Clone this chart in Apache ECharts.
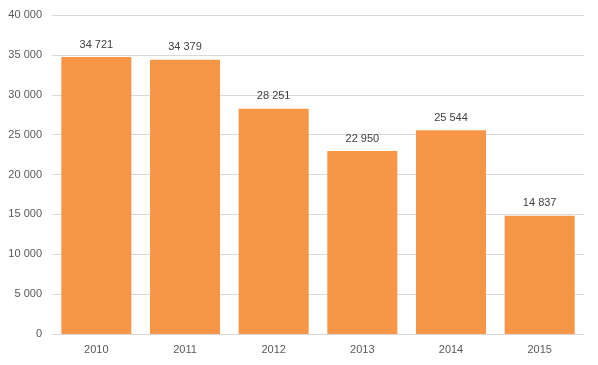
<!DOCTYPE html>
<html><head><meta charset="utf-8">
<script src="https://cdn.jsdelivr.net/npm/echarts@6/dist/echarts.min.js"></script>
<style>html,body{margin:0;padding:0;background:#fff}#c{width:598px;height:365px}</style>
</head><body><div id="c"></div>
<script>
const categories = ['2010','2011','2012','2013','2014','2015'];
const values = [34721, 34379, 28251, 22950, 25544, 14837];
const yMin = 0, yMax = 40000, yInterval = 5000;

function fmt(v){ return String(v).replace(/\B(?=(\d{3})+(?!\d))/g, ' '); }

const chart = echarts.init(document.getElementById('c'), null, {renderer:'canvas'});
chart.setOption({
  animation:false,
  backgroundColor:'#fff',
  grid:{left:52, right:14, top:15, bottom:31, containLabel:false},
  xAxis:{type:'category', data:categories,
    axisLine:{lineStyle:{color:'#d9d9d9'}}, axisTick:{show:false},
    axisLabel:{color:'#595959', fontFamily:'Liberation Sans', fontSize:11, margin:10}},
  yAxis:{type:'value', min:yMin, max:yMax, interval:yInterval,
    axisLine:{show:false}, axisTick:{show:false},
    splitLine:{lineStyle:{color:'#d9d9d9'}},
    axisLabel:{color:'#595959', fontFamily:'Liberation Sans', fontSize:11, margin:10, formatter:fmt}},
  series:[{type:'bar', data:values, barWidth:'79%', itemStyle:{color:'#F79646'},
    label:{show:true, position:'top', distance:7, color:'#404040', fontFamily:'Liberation Sans', fontSize:11, formatter:p=>fmt(p.value)}}]
});
</script></body></html>
